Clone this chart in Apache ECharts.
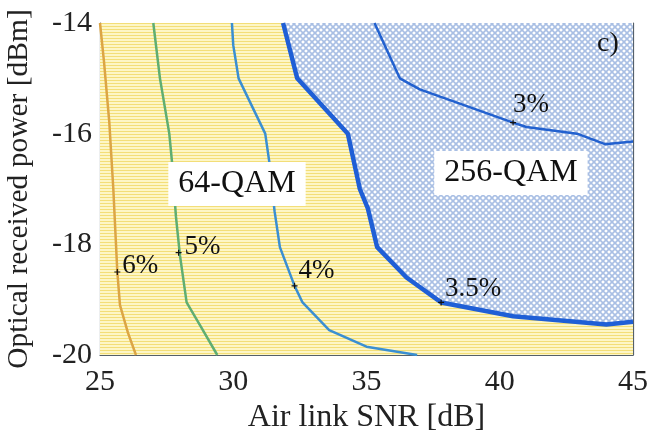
<!DOCTYPE html>
<html><head><meta charset="utf-8">
<script src="https://cdn.jsdelivr.net/npm/echarts@6/dist/echarts.min.js"></script>
<style>html,body{margin:0;padding:0;background:#fff}#c{width:650px;height:438px}</style>
</head><body><div id="c"></div>
<script>
// ---- data ----
const xRange = [25, 45];
const yRange = [-20, -14];
const xTickStep = 5;
const yTickStep = 2;
const xTitle = 'Air link SNR [dB]';
const yTitle = 'Optical received power [dBm]';
const contour6 = [[25.0,-14],[25.15,-14.7],[25.35,-15.8],[25.5,-17],[25.6,-18],[25.65,-18.5],[25.75,-19.1],[26.05,-19.6],[26.35,-20]];
const contour5 = [[27.0,-14],[27.25,-15.0],[27.6,-16.0],[27.7,-16.5],[27.85,-17.5],[28.0,-18.2],[28.25,-19.05],[28.8,-19.5],[29.4,-20]];
const contour4 = [[29.95,-14],[30.0,-14.4],[30.2,-15.0],[31.2,-16.0],[31.35,-16.5],[31.55,-17.4],[31.75,-18.05],[32.3,-18.75],[32.6,-19.05],[33.6,-19.55],[35.0,-19.85],[36.9,-20]];
const contour35 = [[31.87,-14],[32.4,-15.0],[34.3,-16.0],[34.75,-17.0],[35.05,-17.35],[35.4,-18.05],[36.5,-18.6],[37.8,-19.05],[40.5,-19.3],[44.0,-19.45],[45,-19.4]];
const contour3 = [[35.3,-14],[36.25,-15.0],[37.0,-15.2],[40.5,-15.8],[41.0,-15.88],[42.9,-16.0],[43.95,-16.19],[45,-16.14]];
const contourLabels = [['6%',25.65,-18.5],['5%',27.95,-18.15],['4%',32.3,-18.75],['3.5%',37.8,-19.05],['3%',40.5,-15.8]];
const regionLabels = [['64-QAM',30.14,-16.91],['256-QAM',40.42,-16.71]];
const panelLabel = ['c)',44.06,-14.38];

// ---- styles ----
const FONT = '"Liberation Serif", "Times New Roman", serif';
const AXIS_COLOR = '#55606a';
function stripes(){const c=document.createElement('canvas');c.width=4;c.height=3;const g=c.getContext('2d');
  g.fillStyle='#fdf6c6';g.fillRect(0,0,4,3);g.fillStyle='#f3de78';g.fillRect(0,2,4,1);return c;}
function hatch(){const s=6;const c=document.createElement('canvas');c.width=s;c.height=s;const g=c.getContext('2d');
  g.fillStyle='#ffffff';g.fillRect(0,0,s,s);g.strokeStyle='#a9bfe4';g.lineWidth=1.6;g.beginPath();
  g.moveTo(-1,-1);g.lineTo(s+1,s+1);g.moveTo(s+1,-1);g.lineTo(-1,s+1);g.stroke();return c;}
const labelOffsets = {'6%':[2,-6],'5%':[3,-6],'4%':[1,-15],'3.5%':[1,-14],'3%':[-3,-18]};

const chart = echarts.init(document.getElementById('c'), null, {renderer:'canvas'});
function axisX(pos, showLabel){return {type:'value',min:xRange[0],max:xRange[1],interval:xTickStep,position:pos,
  axisLine:{show:true,onZero:false,lineStyle:{color:AXIS_COLOR,width:1.2}},
  axisTick:{show:true,inside:true,length:5,lineStyle:{color:AXIS_COLOR}},
  splitLine:{show:false},
  axisLabel:{show:showLabel,fontFamily:FONT,fontSize:30,color:'#222',margin:12},
  name: showLabel?xTitle:'', nameLocation:'middle', nameGap:47,
  nameTextStyle:{fontFamily:FONT,fontSize:32,color:'#222'}};}
function axisY(pos, showLabel){return {type:'value',min:yRange[0],max:yRange[1],interval:yTickStep,position:pos,
  axisLine:{show:true,onZero:false,lineStyle:{color:AXIS_COLOR,width:1.2}},
  axisTick:{show:true,inside:true,length:5,lineStyle:{color:AXIS_COLOR}},
  splitLine:{show:false},
  axisLabel:{show:showLabel,fontFamily:FONT,fontSize:30,color:'#222',margin:8},
  name: showLabel?yTitle:'', nameLocation:'middle', nameGap:66,
  nameTextStyle:{fontFamily:FONT,fontSize:29.5,color:'#222'}};}

function contourSeries(data,color,width,z){return {type:'line',data:data,showSymbol:false,symbol:'none',
  lineStyle:{color:color,width:width},z:z,silent:true,animation:false};}

const option = {
  animation:false,
  grid:{left:100,right:17,top:23,bottom:83,containLabel:false,outerBoundsMode:'none'},
  xAxis:[axisX('bottom',true),axisX('top',false)],
  yAxis:[axisY('left',true),axisY('right',false)],
  series:[
    {type:'line',data:[[xRange[0],yRange[1]],[xRange[1],yRange[1]]],symbol:'none',lineStyle:{width:0},
      areaStyle:{origin:'start',color:{image:stripes(),repeat:'repeat'},opacity:1},z:1,silent:true},
    {type:'line',data:contour35,symbol:'none',lineStyle:{width:0},
      areaStyle:{origin:'end',color:{image:hatch(),repeat:'repeat'},opacity:1},z:2,silent:true},
    contourSeries(contour6,'#dca545',2.5,4),
    contourSeries(contour5,'#5fae72',2.5,4),
    contourSeries(contour4,'#3a8fd2',2.5,4),
    contourSeries(contour3,'#2261cf',2.5,4),
    contourSeries(contour35,'#1f5fd6',4.5,5),
    {type:'scatter',data:contourLabels.map(d=>({value:[d[1],d[2]],name:d[0],
        label:{show:true,position:'right',distance:0,offset:labelOffsets[d[0]],formatter:d[0],
          fontFamily:FONT,fontSize:27,color:'#111'}})),
      symbol:'path://M4,0H6V4H10V6H6V10H4V6H0V4H4Z',symbolSize:6,itemStyle:{color:'#111',opacity:1},z:10,silent:true},
    {type:'scatter',data:regionLabels.map(d=>({value:[d[1],d[2]],name:d[0]})),symbolSize:0,z:11,silent:true,
      itemStyle:{opacity:1},
      label:{show:true,position:'inside',formatter:p=>p.name,fontFamily:FONT,fontSize:32,color:'#111',
        backgroundColor:'#ffffff',padding:[7,10,5,10],opacity:1}},
    {type:'scatter',data:[{value:[panelLabel[1],panelLabel[2]],name:panelLabel[0]}],symbolSize:0,z:11,silent:true,
      itemStyle:{opacity:1},
      label:{show:true,position:'inside',formatter:p=>p.name,fontFamily:FONT,fontSize:28,color:'#111'}}
  ]
};
chart.setOption(option);
</script></body></html>
